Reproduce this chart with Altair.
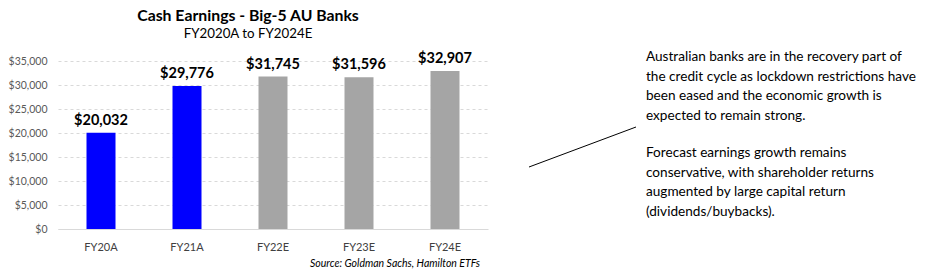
import altair as alt
import pandas as pd

categories = ["FY20A", "FY21A", "FY22E", "FY23E", "FY24E"]
earnings = [20032, 29776, 31745, 31596, 32907]
kinds = ["Actual", "Actual", "Estimate", "Estimate", "Estimate"]
y_ticks = [0, 5000, 10000, 15000, 20000, 25000, 30000, 35000]

title_text = "Cash Earnings - Big-5 AU Banks"
subtitle_text = "FY2020A to FY2024E"
source_text = "Source: Goldman Sachs, Hamilton ETFs"
note_para1 = [
    "Australian banks are in the recovery part of",
    "the credit cycle as lockdown restrictions have",
    "been eased and the economic growth is",
    "expected to remain strong.",
]
note_para2 = [
    "Forecast earnings growth remains",
    "conservative, with shareholder returns",
    "augmented by large capital return",
    "(dividends/buybacks).",
]

df = pd.DataFrame({"cat": categories, "val": earnings, "kind": kinds})
one = pd.DataFrame({"k": [0]})

FONT = "Lato"

x_enc = alt.X(
    "cat:N",
    sort=categories,
    title=None,
    scale=alt.Scale(paddingInner=0, paddingOuter=0),
    axis=alt.Axis(
        labelAngle=0,
        labelFont=FONT,
        labelFontSize=11,
        labelColor="#404040",
        labelPadding=12,
        ticks=False,
        domainColor="#d9d9d9",
        domainWidth=1,
        grid=False,
    ),
)
y_enc = alt.Y(
    "val:Q",
    title=None,
    scale=alt.Scale(domain=[0, 35000], nice=False),
    axis=alt.Axis(
        values=y_ticks,
        tickCount=len(y_ticks),
        format="$,.0f",
        labelFont=FONT,
        labelFontSize=10.5,
        labelColor="#595959",
        labelPadding=11,
        labelOverlap=False,
        ticks=False,
        domain=False,
        grid=True,
        gridDash=[3, 3],
        gridColor="#d9d9d9",
        gridWidth=1,
    ),
)

bars = alt.Chart(df).mark_bar(size=29).encode(
    x=x_enc,
    y=y_enc,
    color=alt.Color(
        "kind:N",
        scale=alt.Scale(domain=["Actual", "Estimate"], range=["#0000ff", "#a5a5a5"]),
        legend=None,
    ),
)

labels = alt.Chart(df).mark_text(
    baseline="alphabetic", dy=-8, font=FONT, fontSize=14.5, fontWeight="bold", color="#000000"
).encode(
    x=alt.X("cat:N", sort=categories),
    y="val:Q",
    text=alt.Text("val:Q", format="$,.0f"),
)

title = alt.Chart(one).mark_text(
    text=title_text, font=FONT, fontSize=15.8, fontWeight="bold", align="center",
    baseline="alphabetic", color="#000000"
).encode(x=alt.value(190), y=alt.value(-40))

subtitle = alt.Chart(one).mark_text(
    text=subtitle_text, font=FONT, fontSize=13.3, align="center",
    baseline="alphabetic", color="#000000"
).encode(x=alt.value(190), y=alt.value(-23))

source = alt.Chart(one).mark_text(
    text=source_text, font=FONT, fontSize=10.5, fontStyle="italic", align="right",
    baseline="alphabetic", color="#000000"
).encode(x=alt.value(422), y=alt.value(206))

para1 = alt.Chart(one).mark_text(
    text=note_para1, font=FONT, fontSize=13.6, align="left", baseline="alphabetic",
    lineHeight=19.7, color="#000000"
).encode(x=alt.value(588), y=alt.value(0))

para2 = alt.Chart(one).mark_text(
    text=note_para2, font=FONT, fontSize=13.6, align="left", baseline="alphabetic",
    lineHeight=19.7, color="#000000"
).encode(x=alt.value(588), y=alt.value(96))

connector = alt.Chart(one).mark_rule(color="#000000", strokeWidth=1).encode(
    x=alt.value(471), y=alt.value(106), x2=alt.value(578), y2=alt.value(66)
)

chart = alt.layer(bars, labels, title, subtitle, source, para1, para2, connector).properties(
    width=430,
    height=168,
    autosize=alt.AutoSizeParams(type="none"),
    padding={"left": 58, "top": 61, "right": 437, "bottom": 43},
    background="#ffffff",
).configure_view(stroke=None)

chart.save("out.html", embed_options={"renderer": "svg", "actions": False})
